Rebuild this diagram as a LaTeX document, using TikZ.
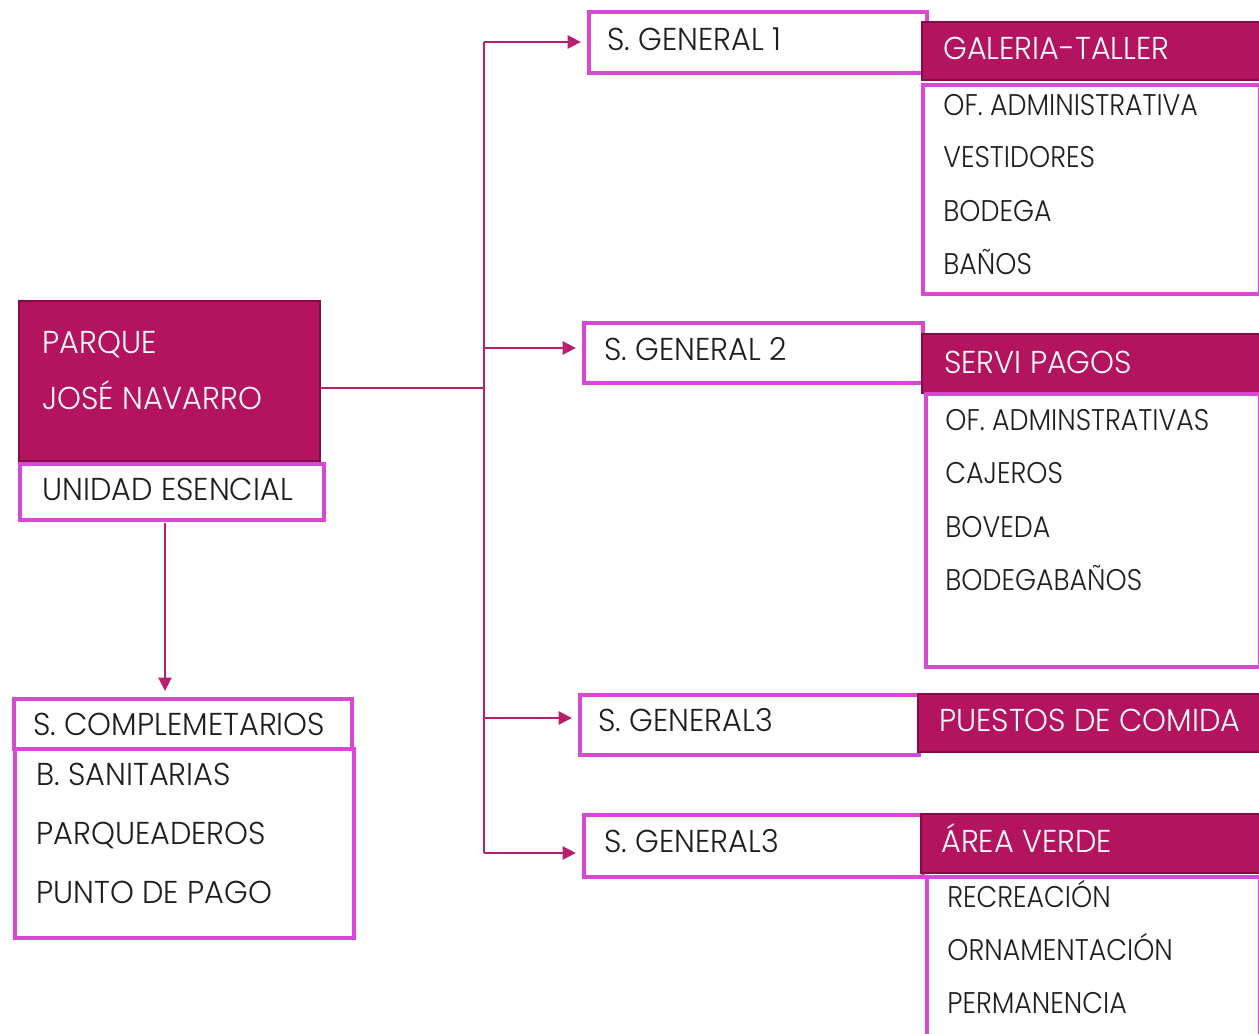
\documentclass[tikz,border=0pt]{standalone}
\usepackage{fontspec}
\setmainfont{Poppins Light}[FakeStretch=0.9]
\newfontfamily\wideface{Poppins Light}[FakeStretch=0.96]
\usetikzlibrary{positioning,arrows.meta}
\definecolor{plum}{RGB}{180,19,96}
\definecolor{plumdark}{RGB}{132,12,68}
\definecolor{orchid}{RGB}{216,72,212}
\definecolor{wire}{RGB}{184,30,110}
\definecolor{inkc}{RGB}{30,30,30}

\begin{document}
\begin{tikzpicture}[
  x=0.02cm, y=-0.02cm,
  wh/.style 2 args={minimum width=#1*0.02cm, minimum height=#2*0.02cm},
  outl/.style={draw=orchid, line width=2pt, fill=white, anchor=north west, inner sep=0pt},
  head/.style={draw=plumdark, line width=1.4pt, fill=plum, anchor=north west, inner sep=0pt},
  lbl/.style={anchor=base west, font=\fontsize{17}{20}\selectfont, text=inkc, inner sep=0pt},
  big/.style={lbl, font=\wideface\fontsize{18}{21}\selectfont},
  hlbl/.style={big, text=white},
  conn/.style={draw=wire, line width=1pt},
  arr/.style={conn, -{Triangle[length=7.5pt,width=7.5pt]}, shorten >=3.5pt},
]
\useasboundingbox (0,0) rectangle (1259,1034);

% ---- main unit ----
\node[head, wh={301}{160}] (pq) at (18,300) {};
\node[hlbl] (pq1) at (42,353) {PARQUE};
\node[hlbl] (pq2) at (42,409) {JOSÉ NAVARRO};
\node[outl, wh={304}{56}] (ue) at (18,462) {};
\node[big] (uet) at (42,500) {UNIDAD ESENCIAL};

% ---- complementary services ----
\node[outl, wh={338}{50}] (sc) at (12,697) {};
\node[big] (sct) at (33,735) {S. COMPLEMETARIOS};
\node[outl, wh={339}{189}] (scl) at (13,747) {};
\foreach \t/\y [count=\i] in {B. SANITARIAS/785, PARQUEADEROS/844, PUNTO DE PAGO/903}
  \node[big] (sc-\i) at (36,\y) {\t};

% ---- general 1 ----
\node[outl, wh={338}{61}] (sg1) at (587,10) {};
\node[big] (sg1t) at (607,51) {S. GENERAL 1};
\node[head, wh={341}{58}] (gt) at (921,21) {};
\node[hlbl] (gtt) at (943,60) {GALERIA-TALLER};
\node[outl, wh={337}{209}] (gtl) at (921,83) {};
\foreach \t/\y [count=\i] in {OF. ADMINISTRATIVA/116, VESTIDORES/168, BODEGA/222, BAÑOS/275}
  \node[lbl] (gt-\i) at (943,\y) {\t};

% ---- general 2 ----
\node[outl, wh={339}{60}] (sg2) at (582,321) {};
\node[big] (sg2t) at (604,360) {S. GENERAL 2};
\node[head, wh={341}{59}] (sp) at (921,333) {};
\node[hlbl] (spt) at (944,373) {SERVI PAGOS};
\node[outl, wh={334}{273}] (spl) at (924,392) {};
\foreach \t/\y [count=\i] in {OF. ADMINSTRATIVAS/430, CAJEROS/483, BOVEDA/537, BODEGABAÑOS/590}
  \node[lbl] (sp-\i) at (945,\y) {\t};

% ---- general 3 ----
\node[outl, wh={339}{60}] (sg3) at (578,693) {};
\node[big] (sg3t) at (598,731) {S. GENERAL3};
\node[head, wh={345}{58}] (pc) at (917,693) {};
\node[hlbl] (pct) at (939,731) {PUESTOS DE COMIDA};

% ---- general 3 (green area) ----
\node[outl, wh={339}{62}] (sg4) at (582,813) {};
\node[big] (sg4t) at (604,852) {S. GENERAL3};
\node[head, wh={342}{59}] (av) at (920,813) {};
\node[hlbl] (avt) at (941,852) {ÁREA VERDE};
\node[outl, wh={333}{170}] (avl) at (925,875) {};
\foreach \t/\y [count=\i] in {RECREACIÓN/907, ORNAMENTACIÓN/960, PERMANENCIA/1013}
  \node[lbl] (av-\i) at (947,\y) {\t};

% ---- connectors ----
\coordinate (tj) at (484,388);
\coordinate (b1) at (484,42);
\coordinate (b2) at (484,348);
\coordinate (b3) at (484,718);
\coordinate (b4) at (484,853);
\coordinate (d0) at (165,523);
\draw[conn] (pq.east |- tj) -- (tj);
\draw[conn] (b1) -- (b4);
\foreach \i in {1,2,3,4}
  \draw[arr] (b\i) -- (b\i -| sg\i.west);
\draw[arr] (d0) -- (d0 |- sc.north);

\end{tikzpicture}
\end{document}
